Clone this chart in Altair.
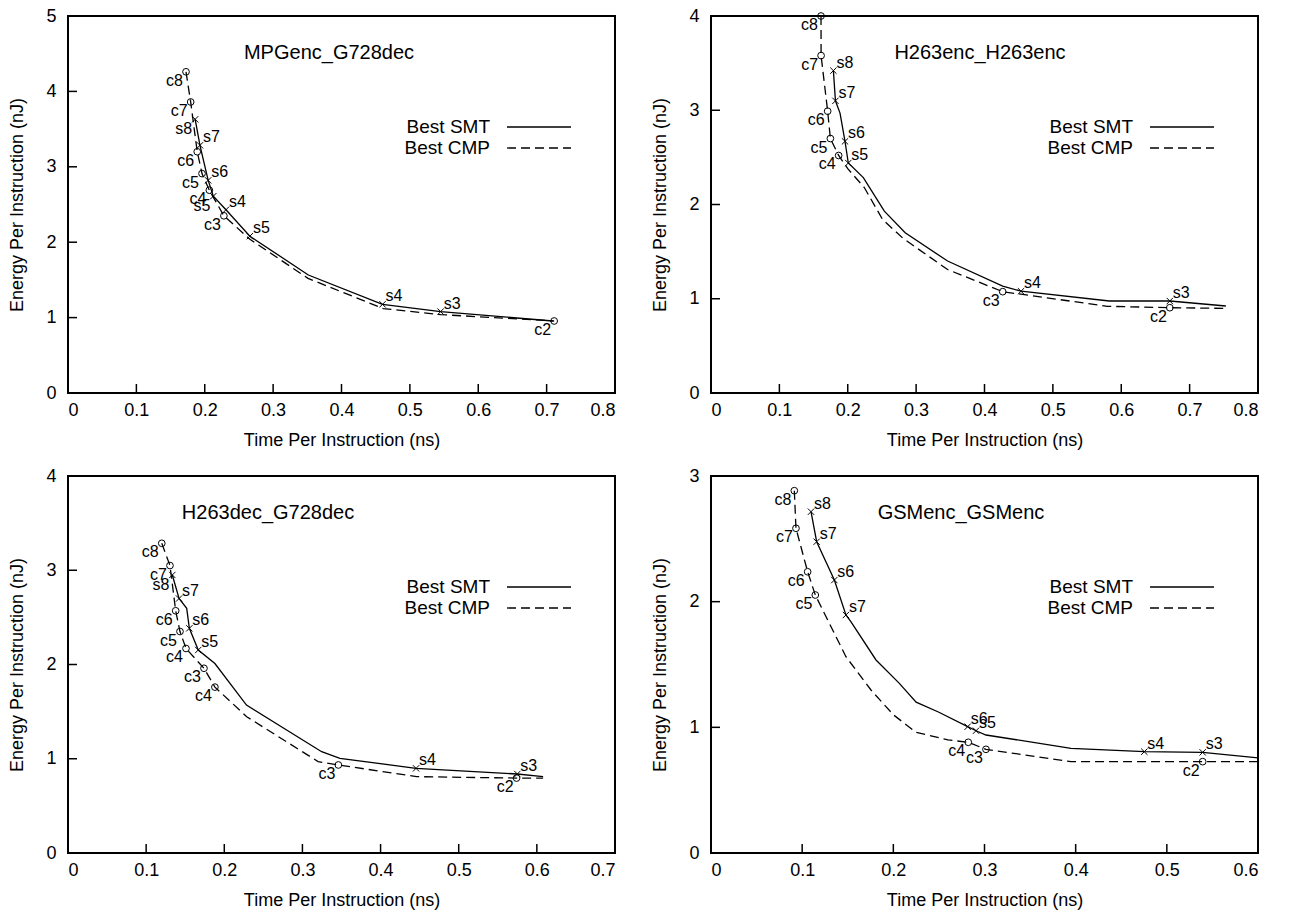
import altair as alt
import pandas as pd

FONT = "Liberation Sans"
W, H = 547, 377
XT = "Time Per Instruction (ns)"
YT = "Energy Per Instruction (nJ)"

# ---------------- Panel 1: MPGenc_G728dec ----------------
p1_name = "MPGenc_G728dec"
p1_xticks = [0, 0.1, 0.2, 0.3, 0.4, 0.5, 0.6, 0.7, 0.8]
p1_yticks = [0, 1, 2, 3, 4, 5]
p1_smt_line_v = [0.186, 0.193, 0.205, 0.2125, 0.231, 0.266, 0.3515, 0.460, 0.545, 0.709]
p1_smt_line_e = [3.63, 3.285, 2.82, 2.61, 2.43, 2.08, 1.565, 1.176, 1.08, 0.955]
p1_smt_lab = ["s8", "s7", "s6", "s5", "s4", "s5", "s4", "s3"]
p1_smt_v = [0.186, 0.193, 0.205, 0.2125, 0.231, 0.266, 0.460, 0.545]
p1_smt_e = [3.63, 3.285, 2.82, 2.61, 2.43, 2.08, 1.176, 1.08]
p1_smt_left = [True, False, False, True, False, False, False, False]
p1_cmp_line_v = [0.1726, 0.1794, 0.189, 0.196, 0.2067, 0.228, 0.266, 0.351, 0.461, 0.545, 0.711]
p1_cmp_line_e = [4.26, 3.86, 3.20, 2.91, 2.69, 2.35, 2.04, 1.52, 1.12, 1.04, 0.955]
p1_cmp_lab = ["c8", "c7", "c6", "c5", "c4", "c3", "c2"]
p1_cmp_v = [0.1726, 0.1794, 0.189, 0.196, 0.2067, 0.228, 0.711]
p1_cmp_e = [4.26, 3.86, 3.20, 2.91, 2.69, 2.35, 0.955]

# ---------------- Panel 2: H263enc_H263enc ----------------
p2_name = "H263enc_H263enc"
p2_xticks = [0, 0.1, 0.2, 0.3, 0.4, 0.5, 0.6, 0.7, 0.8]
p2_yticks = [0, 1, 2, 3, 4]
p2_smt_line_v = [0.179, 0.182, 0.1887, 0.196, 0.2008, 0.2228, 0.2535, 0.284, 0.346, 0.4266, 0.4534, 0.5826, 0.671, 0.753]
p2_smt_line_e = [3.42, 3.10, 2.97, 2.67, 2.44, 2.285, 1.93, 1.70, 1.40, 1.135, 1.08, 0.976, 0.976, 0.923]
p2_smt_lab = ["s8", "s7", "s6", "s5", "s4", "s3"]
p2_smt_v = [0.179, 0.182, 0.196, 0.2008, 0.4534, 0.671]
p2_smt_e = [3.42, 3.10, 2.67, 2.44, 1.08, 0.976]
p2_smt_left = [False, False, False, False, False, False]
p2_cmp_line_v = [0.1609, 0.161, 0.1706, 0.1746, 0.1867, 0.20, 0.2242, 0.251, 0.281, 0.346, 0.4266, 0.58, 0.671, 0.751]
p2_cmp_line_e = [4.0, 3.58, 2.99, 2.70, 2.52, 2.38, 2.18, 1.84, 1.64, 1.31, 1.075, 0.92, 0.905, 0.898]
p2_cmp_lab = ["c8", "c7", "c6", "c5", "c4", "c3", "c2"]
p2_cmp_v = [0.1609, 0.161, 0.1706, 0.1746, 0.1867, 0.4266, 0.671]
p2_cmp_e = [4.0, 3.58, 2.99, 2.70, 2.52, 1.075, 0.905]

# ---------------- Panel 3: H263dec_G728dec ----------------
p3_name = "H263dec_G728dec"
p3_xticks = [0, 0.1, 0.2, 0.3, 0.4, 0.5, 0.6, 0.7]
p3_yticks = [0, 1, 2, 3, 4]
p3_smt_line_v = [0.1335, 0.1421, 0.1519, 0.1553, 0.1667, 0.188, 0.2284, 0.3246, 0.348, 0.4454, 0.575, 0.608]
p3_smt_line_e = [2.95, 2.70, 2.596, 2.384, 2.154, 2.01, 1.57, 1.075, 1.005, 0.898, 0.838, 0.81]
p3_smt_lab = ["s8", "s7", "s6", "s5", "s4", "s3"]
p3_smt_v = [0.1335, 0.1421, 0.1553, 0.1667, 0.4454, 0.575]
p3_smt_e = [2.95, 2.70, 2.384, 2.154, 0.898, 0.838]
p3_smt_left = [True, False, False, False, False, False]
p3_cmp_line_v = [0.12, 0.1305, 0.1378, 0.1433, 0.151, 0.174, 0.188, 0.2287, 0.32, 0.346, 0.446, 0.574, 0.608]
p3_cmp_line_e = [3.286, 3.05, 2.57, 2.35, 2.17, 1.96, 1.76, 1.446, 0.97, 0.934, 0.81, 0.795, 0.795]
p3_cmp_lab = ["c8", "c7", "c6", "c5", "c4", "c3", "c4", "c3", "c2"]
p3_cmp_v = [0.12, 0.1305, 0.1378, 0.1433, 0.151, 0.174, 0.188, 0.346, 0.574]
p3_cmp_e = [3.286, 3.05, 2.57, 2.35, 2.17, 1.96, 1.76, 0.934, 0.795]

# ---------------- Panel 4: GSMenc_GSMenc ----------------
p4_name = "GSMenc_GSMenc"
p4_xticks = [0, 0.1, 0.2, 0.3, 0.4, 0.5, 0.6]
p4_yticks = [0, 1, 2, 3]
p4_smt_line_v = [0.1097, 0.1159, 0.1353, 0.148, 0.1536, 0.181, 0.2066, 0.225, 0.25, 0.2815, 0.2907, 0.3016, 0.3949, 0.4753, 0.5393, 0.6]
p4_smt_line_e = [2.716, 2.477, 2.172, 1.894, 1.84, 1.536, 1.35, 1.20, 1.12, 1.005, 0.973, 0.939, 0.833, 0.806, 0.801, 0.757]
p4_smt_lab = ["s8", "s7", "s6", "s7", "s6", "s5", "s4", "s3"]
p4_smt_v = [0.1097, 0.1159, 0.1353, 0.148, 0.2815, 0.2907, 0.4753, 0.5393]
p4_smt_e = [2.716, 2.477, 2.172, 1.894, 1.005, 0.973, 0.806, 0.801]
p4_smt_left = [False] * 8
p4_cmp_line_v = [0.0914, 0.0932, 0.106, 0.1144, 0.148, 0.1755, 0.20, 0.225, 0.26, 0.2822, 0.3016, 0.3949, 0.5393, 0.6]
p4_cmp_line_e = [2.883, 2.584, 2.238, 2.053, 1.562, 1.297, 1.10, 0.96, 0.90, 0.881, 0.825, 0.727, 0.727, 0.727]
p4_cmp_lab = ["c8", "c7", "c6", "c5", "c4", "c3", "c2"]
p4_cmp_v = [0.0914, 0.0932, 0.106, 0.1144, 0.2822, 0.3016, 0.5393]
p4_cmp_e = [2.883, 2.584, 2.238, 2.053, 0.881, 0.825, 0.727]

legend_labels = ["Best SMT", "Best CMP"]

XMARK = "M-1,-1L1,1M-1,1L1,-1"
DASH = [9, 5]


def panel(name, xticks, yticks, slv, sle, slab, sv, se, sleft, clv, cle, clab, cv, ce, title_x):
    xs = alt.Scale(domain=[xticks[0], xticks[-1]], nice=False, zero=False)
    ys = alt.Scale(domain=[yticks[0], yticks[-1]], nice=False, zero=False)
    xax = alt.Axis(values=xticks, format="~g", title=XT, ticks=False, domain=False, grid=False,
                   labelPadding=8, titlePadding=12)
    yax = alt.Axis(values=yticks, format="~g", title=YT, ticks=False, domain=False, grid=False,
                   labelPadding=12, titlePadding=19)

    smt_line = pd.DataFrame({"v": slv, "e": sle, "i": list(range(len(slv)))})
    cmp_line = pd.DataFrame({"v": clv, "e": cle, "i": list(range(len(clv)))})
    smt_pts = pd.DataFrame({"v": sv, "e": se, "lab": slab, "left": sleft})
    cmp_pts = pd.DataFrame({"v": cv, "e": ce, "lab": clab})
    xt = pd.DataFrame({"v": xticks})
    yt = pd.DataFrame({"e": yticks})

    def X():
        return alt.X("v:Q", scale=xs, axis=xax)

    def Y():
        return alt.Y("e:Q", scale=ys, axis=yax)

    l_smt = alt.Chart(smt_line).mark_line(color="black", strokeWidth=1.3).encode(
        x=X(), y=Y(), order="i:Q")
    l_cmp = alt.Chart(cmp_line).mark_line(color="black", strokeWidth=1.3, strokeDash=DASH).encode(
        x=X(), y=Y(), order="i:Q")
    m_smt = alt.Chart(smt_pts).mark_point(shape=XMARK, size=40, color="black", filled=False,
                                          strokeWidth=1, opacity=1).encode(x=X(), y=Y())
    m_cmp = alt.Chart(cmp_pts).mark_point(shape="circle", size=45, color="black", filled=False,
                                          strokeWidth=1, opacity=1).encode(x=X(), y=Y())
    t_smt_r = alt.Chart(smt_pts).transform_filter("!datum.left").mark_text(
        align="left", baseline="middle", dx=3, dy=-8, font=FONT, fontSize=16, color="black").encode(
        x=X(), y=Y(), text="lab:N")
    t_smt_l = alt.Chart(smt_pts).transform_filter("datum.left").mark_text(
        align="right", baseline="middle", dx=-3, dy=10, font=FONT, fontSize=16, color="black").encode(
        x=X(), y=Y(), text="lab:N")
    t_cmp = alt.Chart(cmp_pts).mark_text(
        align="right", baseline="middle", dx=-3, dy=9, font=FONT, fontSize=16, color="black").encode(
        x=X(), y=Y(), text="lab:N")
    xtk = alt.Chart(xt).mark_rule(color="black", strokeWidth=1.5).encode(
        x=X(), y=alt.value(H), y2=alt.value(H - 9))
    ytk = alt.Chart(yt).mark_rule(color="black", strokeWidth=1.5).encode(
        y=Y(), x=alt.value(0), x2=alt.value(9))

    ttl = alt.Chart(pd.DataFrame({"t": [name]})).mark_text(
        align="center", baseline="middle", font=FONT, fontSize=20, color="black").encode(
        x=alt.value(title_x), y=alt.value(37), text="t:N")

    leg_df = pd.DataFrame({"t": legend_labels})
    leg_t1 = alt.Chart(leg_df).transform_filter("datum.t == 'Best SMT'").mark_text(
        align="right", baseline="middle", font=FONT, fontSize=19, color="black").encode(
        x=alt.value(422), y=alt.value(111), text="t:N")
    leg_t2 = alt.Chart(leg_df).transform_filter("datum.t == 'Best CMP'").mark_text(
        align="right", baseline="middle", font=FONT, fontSize=19, color="black").encode(
        x=alt.value(422), y=alt.value(132), text="t:N")
    leg_l1 = alt.Chart(leg_df).transform_filter("datum.t == 'Best SMT'").mark_rule(
        color="black", strokeWidth=1.3).encode(
        x=alt.value(439), x2=alt.value(503), y=alt.value(111))
    leg_l2 = alt.Chart(leg_df).transform_filter("datum.t == 'Best CMP'").mark_rule(
        color="black", strokeWidth=1.3, strokeDash=DASH).encode(
        x=alt.value(439), x2=alt.value(503), y=alt.value(132))

    return alt.layer(l_smt, l_cmp, m_smt, m_cmp, t_smt_r, t_smt_l, t_cmp, xtk, ytk, ttl,
                     leg_t1, leg_t2, leg_l1, leg_l2).properties(width=W, height=H)


p1 = panel(p1_name, p1_xticks, p1_yticks, p1_smt_line_v, p1_smt_line_e, p1_smt_lab, p1_smt_v, p1_smt_e,
           p1_smt_left, p1_cmp_line_v, p1_cmp_line_e, p1_cmp_lab, p1_cmp_v, p1_cmp_e, 261)
p2 = panel(p2_name, p2_xticks, p2_yticks, p2_smt_line_v, p2_smt_line_e, p2_smt_lab, p2_smt_v, p2_smt_e,
           p2_smt_left, p2_cmp_line_v, p2_cmp_line_e, p2_cmp_lab, p2_cmp_v, p2_cmp_e, 269)
p3 = panel(p3_name, p3_xticks, p3_yticks, p3_smt_line_v, p3_smt_line_e, p3_smt_lab, p3_smt_v, p3_smt_e,
           p3_smt_left, p3_cmp_line_v, p3_cmp_line_e, p3_cmp_lab, p3_cmp_v, p3_cmp_e, 200)
p4 = panel(p4_name, p4_xticks, p4_yticks, p4_smt_line_v, p4_smt_line_e, p4_smt_lab, p4_smt_v, p4_smt_e,
           p4_smt_left, p4_cmp_line_v, p4_cmp_line_e, p4_cmp_lab, p4_cmp_v, p4_cmp_e, 250)

chart = alt.vconcat(
    alt.hconcat(p1, p2, spacing=33),
    alt.hconcat(p3, p4, spacing=33),
    spacing=16,
).configure_view(stroke="black", strokeWidth=2).configure_axis(
    labelFont=FONT, titleFont=FONT, labelFontSize=18, titleFontSize=18,
    titleFontWeight="normal", labelColor="black", titleColor="black",
).properties(padding={"left": 7, "top": 6, "right": 5, "bottom": 5}, background="white")

chart.save("out.html", embed_options={"renderer": "svg", "actions": False})
